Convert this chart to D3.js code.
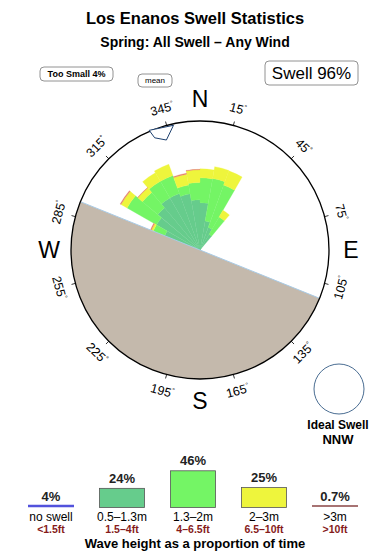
<!DOCTYPE html>
<html>
<head>
<meta charset="utf-8">
<script src="https://cdn.jsdelivr.net/npm/d3@7"></script>
<style>
  body { margin: 0; background: #fff; }
  text { font-family: "Liberation Sans", Arial, sans-serif; }
</style>
</head>
<body>
<div id="chart"></div>
<script>
// direction bins (start bearing, 10 deg wide) and % of time per wave height class
var binStart = [290, 300, 310, 320, 330, 340, 350, 0, 10, 20, 30]
var pctDark = [2.0, 3.5, 4.2, 5.0, 5.0, 4.5, 3.5, 3.1, 1.2, 0.8, 0.45]
var pctLight = [1.5, 6.3, 3.6, 3.7, 3.7, 1.5, 2.8, 4.1, 6.1, 5.8, 1.55]
var pctYellow = [0.3, 1.7, 1.3, 2.3, 2.8, 2.2, 2.6, 1.9, 2.6, 3.2, 0.9]
var pctRed = [0.15, 0.25, 0.1, 0, 0, 0.2, 0.1, 0, 0, 0, 0]

var tickDegs = [15, 45, 75, 105, 135, 165, 195, 225, 255, 285, 315, 345]
var cardinals = ['N', 'E', 'S', 'W']
var cardinalDegs = [0, 90, 180, 270]

var landFrom = 112, landTo = 292
var meanDir = 343

var legendVal = [4, 24, 46, 25, 0.7]
var legendPct = ['4%', '24%', '46%', '25%', '0.7%']
var legendM = ['no swell', '0.5\u20131.3m', '1.3\u20132m', '2\u20133m', '>3m']
var legendFt = ['<1.5ft', '1.5\u20134ft', '4\u20136.5ft', '6.5\u201310ft', '>10ft']

var width = 390, height = 560
var cx = 200, cy = 250, R = 129
var rad = Math.PI / 180
var colors = ['#66cc8c', '#74f565', '#eef53c', '#e5806a']

var svg = d3.select('#chart').append('svg')
    .attr('width', width).attr('height', height)

// titles
svg.append('text').attr('x', 195).attr('y', 24).attr('text-anchor', 'middle')
    .style('font-size', '16.5px').style('font-weight', 'bold').text('Los Enanos Swell Statistics')
svg.append('text').attr('x', 195).attr('y', 47).attr('text-anchor', 'middle')
    .style('font-size', '14px').style('font-weight', 'bold').text('Spring: All Swell \u2013 Any Wind')

// little boxed labels
function boxLabel(x, y, w, h, txt, size, weight) {
    svg.append('rect').attr('x', x).attr('y', y).attr('width', w).attr('height', h)
        .attr('rx', 4).attr('fill', '#fff').attr('stroke', '#777').attr('stroke-width', 0.8)
    svg.append('text').attr('x', x + w / 2).attr('y', y + h / 2).attr('text-anchor', 'middle')
        .attr('dominant-baseline', 'central').style('font-size', size).style('font-weight', weight).text(txt)
}
boxLabel(40, 67, 73, 14, 'Too Small 4%', '9px', 'bold')
boxLabel(138, 74, 34, 13, 'mean', '8px', 'normal')
boxLabel(265, 61, 93, 24, 'Swell 96%', '17px', 'normal')

var g = svg.append('g').attr('transform', 'translate(' + cx + ',' + cy + ')')

g.append('circle').attr('r', R).attr('fill', '#fff')

// stacked wedges
var rows = binStart.map(function (b, i) {
    return { start: b, dark: pctDark[i], light: pctLight[i], yellow: pctYellow[i], red: pctRed[i] }
})
var keys = ['dark', 'light', 'yellow', 'red']
var stack = d3.stack().keys(keys)(rows)
var r = d3.scaleSqrt().domain([0, 23]).range([0, R])
var arc = d3.arc()

stack.forEach(function (layer, k) {
    g.selectAll('.w' + k)
        .data(layer.filter(function (d) { return d[1] > d[0] }))
        .enter()
        .append('path')
        .attr('d', function (d) {
            return arc({
                innerRadius: r(d[0]), outerRadius: r(d[1]),
                startAngle: d.data.start * rad, endAngle: (d.data.start + 10) * rad
            })
        })
        .attr('fill', colors[k])
        .attr('stroke', colors[k])
        .attr('stroke-width', 0.3)
})

// land
g.append('path')
    .attr('d', arc({ innerRadius: 0, outerRadius: R, startAngle: landFrom * rad, endAngle: landTo * rad }))
    .attr('fill', '#c4b9ac')
function pt(b, rr) { return [rr * Math.sin(b * rad), -rr * Math.cos(b * rad)] }
var p1 = pt(landFrom, R), p2 = pt(landTo, R)
g.append('line').attr('x1', p1[0]).attr('y1', p1[1]).attr('x2', p2[0]).attr('y2', p2[1])
    .attr('stroke', '#a9cbe6').attr('stroke-width', 1)

g.append('circle').attr('r', R).attr('fill', 'none').attr('stroke', '#000').attr('stroke-width', 1.3)

// mean direction marker
var arrowPts = [[R + 1, -6], [R - 1.5, 5], [R - 14, 0], [R - 8, -5]].map(function (p) {
    return pt(meanDir + p[1], p[0])
})
g.append('polygon').attr('points', arrowPts.map(function (p) { return p.join(',') }).join(' '))
    .attr('fill', '#fff').attr('stroke', '#1c3f6e').attr('stroke-width', 1)

// ticks and degree labels
g.selectAll('.tick').data(tickDegs).enter().append('line')
    .attr('x1', function (d) { return pt(d, R)[0] }).attr('y1', function (d) { return pt(d, R)[1] })
    .attr('x2', function (d) { return pt(d, R + 4)[0] }).attr('y2', function (d) { return pt(d, R + 4)[1] })
    .attr('stroke', '#000').attr('stroke-width', 0.8)

var lab = g.selectAll('.deg').data(tickDegs).enter().append('text')
    .attr('text-anchor', 'middle').attr('dominant-baseline', 'central')
    .style('font-size', '12.5px')
    .attr('transform', function (d) {
        var p = pt(d, 146)
        var rot = (d > 90 && d < 270) ? d - 180 : d
        return 'translate(' + p[0] + ',' + p[1] + ') rotate(' + rot + ')'
    })
lab.append('tspan').text(function (d) { return d })
lab.append('tspan').attr('dy', -4).style('font-size', '7px').text('\u00b0')

g.selectAll('.card').data(cardinals).enter().append('text')
    .attr('x', function (d, i) { return pt(cardinalDegs[i], 151)[0] })
    .attr('y', function (d, i) { return pt(cardinalDegs[i], 151)[1] })
    .attr('text-anchor', 'middle').attr('dominant-baseline', 'central')
    .style('font-size', '23px').text(function (d) { return d })

// ideal swell
svg.append('circle').attr('cx', 339).attr('cy', 389).attr('r', 25)
    .attr('fill', '#fff').attr('stroke', '#4a6d92').attr('stroke-width', 1)
svg.append('text').attr('x', 338).attr('y', 429).attr('text-anchor', 'middle')
    .style('font-size', '12px').style('font-weight', 'bold').text('Ideal Swell')
svg.append('text').attr('x', 338).attr('y', 443.5).attr('text-anchor', 'middle')
    .style('font-size', '13px').style('font-weight', 'bold').text('NNW')

// legend
var lx = d3.scalePoint().domain(d3.range(legendVal.length)).range([51, 335])
var lh = d3.scaleLinear().domain([0, 46]).range([0, 36.7])
var base = 507.5, bw = 45
var lineColors = ['#5252dc', null, null, null, '#8a4545']
var boxColors = [null, colors[0], colors[1], colors[2], null]

legendVal.forEach(function (v, i) {
    var x = lx(i), top
    if (boxColors[i]) {
        top = base - lh(v)
        svg.append('rect').attr('x', x - bw / 2).attr('y', top).attr('width', bw).attr('height', lh(v))
            .attr('fill', boxColors[i]).attr('stroke', '#555').attr('stroke-width', 0.8)
    } else {
        top = base - 1.5
        svg.append('line').attr('x1', x - 23).attr('x2', x + 23).attr('y1', top).attr('y2', top)
            .attr('stroke', lineColors[i]).attr('stroke-width', i === 0 ? 2.6 : 1.6)
    }
    svg.append('text').attr('x', x).attr('y', top - 5.5).attr('text-anchor', 'middle')
        .style('font-size', '13px').style('font-weight', 'bold').attr('fill', '#222').text(legendPct[i])
    svg.append('text').attr('x', x).attr('y', 520.5).attr('text-anchor', 'middle')
        .style('font-size', '12px').text(legendM[i])
    svg.append('text').attr('x', x).attr('y', 533).attr('text-anchor', 'middle')
        .style('font-size', '10.5px').style('font-weight', 'bold').attr('fill', '#861b1b').text(legendFt[i])
})
svg.append('text').attr('x', 195).attr('y', 548).attr('text-anchor', 'middle')
    .style('font-size', '13px').style('font-weight', 'bold').text('Wave height as a proportion of time')
</script>
</body>
</html>
